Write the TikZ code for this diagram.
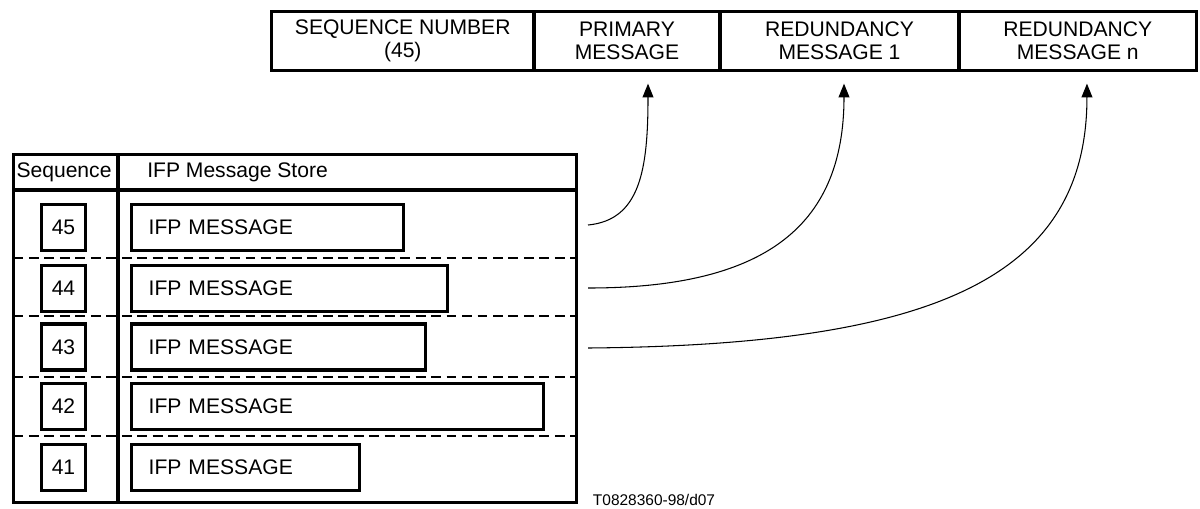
\documentclass[tikz,border=0pt]{standalone}
\usepackage{fontspec}
\setmainfont{Liberation Sans}
\usepackage{tikz}
\usetikzlibrary{arrows.meta}

\begin{document}
\begin{tikzpicture}[x=0.025cm, y=-0.025cm,
    every node/.style={font=\fontsize{15}{16.5}\selectfont},
    field/.style={rectangle, draw, line width=2.2pt, minimum height=1.475cm, align=center, inner sep=0pt},
    numbox/.style={rectangle, draw, line width=2.2pt, minimum width=1.12cm, minimum height=1.15cm, inner sep=0pt},
    msgbox/.style={rectangle, draw, line width=2.2pt, minimum height=1.15cm, inner xsep=0.44cm, inner ysep=0pt, anchor=west, align=left},
    frame/.style={line width=2.2pt},
    rowline/.style={line width=1.5pt, dash pattern=on 7pt off 4pt},
    link/.style={-{Triangle[length=0.34cm, width=0.27cm]}, line width=0.75pt}]
    \useasboundingbox (0,0) rectangle (1200,508);
    % packet fields
    \node [field, minimum width=6.5625cm] (seqnum) at (402.75,41) {SEQUENCE NUMBER\\(45)};
    \node [field, minimum width=4.65cm] (prim) at (627,41) {PRIMARY\\MESSAGE};
    \node [field, minimum width=5.975cm] (red1) at (839.5,41) {REDUNDANCY\\MESSAGE 1};
    \node [field, minimum width=5.94cm] (redn) at (1077.75,41) {REDUNDANCY\\MESSAGE n};
    % message store
    \draw [frame] (13.5,154.5) rectangle (576.5,502.5);
    \draw [frame] (13.5,190) -- (576.5,190);
    \draw [frame] (118,154.5) -- (118,502.5);
    \foreach \y in {258, 316, 377, 436}
        \draw [rowline] (13.5,\y) -- (576.5,\y);
    \node (seqhead) at (64,172) {Sequence};
    \node [anchor=west, inner sep=0pt] (storehead) at (147,172) {IFP Message Store};
    \foreach \n/\y/\w in {45/227.5/403, 44/288.5/447, 43/347/425, 42/406.5/543, 41/467.5/359} {
        \node [numbox] (num\n) at (63.5,\y) {\n};
        \pgfmathsetmacro\tw{(\w-131)*0.025-0.88}
        \node [msgbox, text width=\tw cm] (msg\n) at (129.5,\y) {IFP MESSAGE};
    }
    % links to the packet
    \coordinate (out45) at (588,225);
    \coordinate (out44) at (588,288);
    \coordinate (out43) at (588,348);
    \draw [link] (out45) .. controls (640,220) and (648,170) .. ([xshift=0.525cm, yshift=-0.29cm]prim.south);
    \draw [link] (out44) .. controls (760,288) and (844,230) .. ([xshift=0.1125cm, yshift=-0.29cm]red1.south);
    \draw [link] (out43) .. controls (930,345) and (1087,280) .. ([xshift=0.23cm, yshift=-0.29cm]redn.south);
    \node [anchor=west, font=\fontsize{11}{13}\selectfont] (figid) at (588,500) {T0828360-98/d07};
\end{tikzpicture}
\end{document}
